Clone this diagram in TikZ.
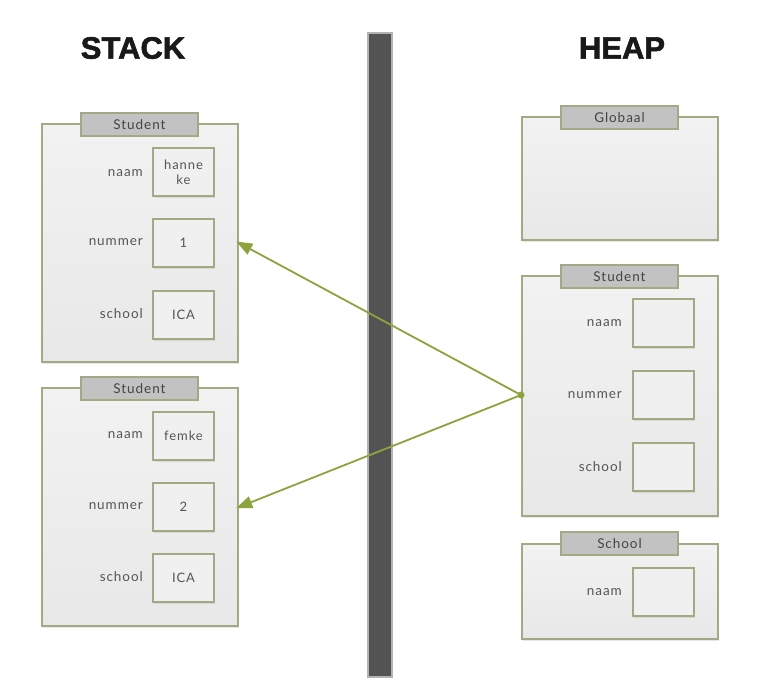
\documentclass[tikz,border=0pt]{standalone}
\usepackage{fontspec}
\setmainfont{Lato}[LetterSpace=7]
\newfontfamily\titlefont{Liberation Sans}[FakeBold=1.8]
\usetikzlibrary{arrows.meta,shadows}
\definecolor{olivebd}{HTML}{A3A985}
\definecolor{tabfill}{HTML}{C2C2C2}
\definecolor{arrowgreen}{HTML}{8CA33E}
\definecolor{labelgray}{HTML}{555555}
\definecolor{barfill}{HTML}{535353}
\tikzset{
  frame/.style={draw=olivebd, line width=2pt, top color=white!95!black, bottom color=white!91!black,
    rectangle, anchor=north west, inner sep=0pt,
    drop shadow={opacity=0.18, shadow xshift=1.2pt, shadow yshift=-1.8pt}},
  tab/.style={draw=olivebd, line width=2pt, fill=tabfill, rectangle, anchor=north west, inner sep=0pt,
    minimum width=117pt, minimum height=23pt, font=\fontsize{13.5}{13.5}\selectfont, text=labelgray!80!black},
  valbox/.style={draw=olivebd, line width=2pt, fill=white!94!black, rectangle, anchor=north west, inner sep=0pt,
    minimum width=61pt, minimum height=48pt, align=center, font=\fontsize{13}{15}\selectfont, text=labelgray,
    drop shadow={opacity=0.18, shadow xshift=1pt, shadow yshift=-1.5pt}},
  lbl/.style={anchor=east, inner sep=0pt, font=\fontsize{13.5}{13.5}\selectfont, text=labelgray},
  title/.style={font=\titlefont\bfseries\fontsize{31}{31}\selectfont, text=black!90, inner sep=0pt},
  ptr/.style={draw=arrowgreen, line width=1.8pt, -{Triangle[length=16pt,width=12pt]}, shorten >=-3pt}
}
\begin{document}
\begin{tikzpicture}[x=1pt,y=-1pt]
\useasboundingbox (0,0) rectangle (768,697);
\fill[white] (0,0) rectangle (768,697);

% titles
\node[title] (stacktitle) at (133,48) {STACK};
\node[title] (heaptitle) at (622,48) {HEAP};

% divider
\node[rectangle, draw=gray!60, line width=1.5pt, fill=barfill, anchor=north west,
  minimum width=24pt, minimum height=644pt, inner sep=0pt] (bar) at (367,32) {};

% ---------------- STACK: Student 1
\node[frame, minimum width=196pt, minimum height=238pt] (s1) at (41,123) {};
\node[tab] (s1tab) at (80,112) {Student};
\node[valbox] (s1naam) at (152,147) {hanne\\ke};
\node[valbox] (s1num) at (152,218) {1};
\node[valbox] (s1school) at (152,290) {ICA};
\node[lbl] (s1naaml) at (143,173) {naam};
\node[lbl] (s1numl) at (143,242) {nummer};
\node[lbl] (s1schooll) at (143,314) {school};

% ---------------- STACK: Student 2
\node[frame, minimum width=196pt, minimum height=238pt] (s2) at (41,387) {};
\node[tab] (s2tab) at (80,376) {Student};
\node[valbox] (s2naam) at (152,411) {femke};
\node[valbox] (s2num) at (152,482) {2};
\node[valbox] (s2school) at (152,553) {ICA};
\node[lbl] (s2naaml) at (143,435) {naam};
\node[lbl] (s2numl) at (143,506) {nummer};
\node[lbl] (s2schooll) at (143,577) {school};

% ---------------- HEAP: Globaal
\node[frame, minimum width=196pt, minimum height=123pt] (glob) at (521,116) {};
\node[tab] (globtab) at (560,105) {Globaal};

% ---------------- HEAP: Student
\node[frame, minimum width=196pt, minimum height=240pt] (hs) at (521,275) {};
\node[tab] (hstab) at (560,264) {Student};
\node[valbox] (hsnaam) at (632,298) {};
\node[valbox] (hsnum) at (632,370) {};
\node[valbox] (hsschool) at (632,442) {};
\node[lbl] (hsnaaml) at (622,323) {naam};
\node[lbl] (hsnuml) at (622,395) {nummer};
\node[lbl] (hsschooll) at (622,467) {school};

% ---------------- HEAP: School
\node[frame, minimum width=196pt, minimum height=95pt] (sch) at (521,543) {};
\node[tab] (schtab) at (560,531) {School};
\node[valbox] (schnaam) at (632,567) {};
\node[lbl] (schnaaml) at (622,592) {naam};

% pointers
\coordinate (src) at (hs.west |- hsnum.center);
\coordinate (t1) at (s1.east |- s1num.center);
\coordinate (t2) at (s2.east |- s2num.center);
\draw[ptr] (src) -- (t1);
\draw[ptr] (src) -- (t2);
\fill[arrowgreen] (src) circle (3.5pt);
\end{tikzpicture}
\end{document}
